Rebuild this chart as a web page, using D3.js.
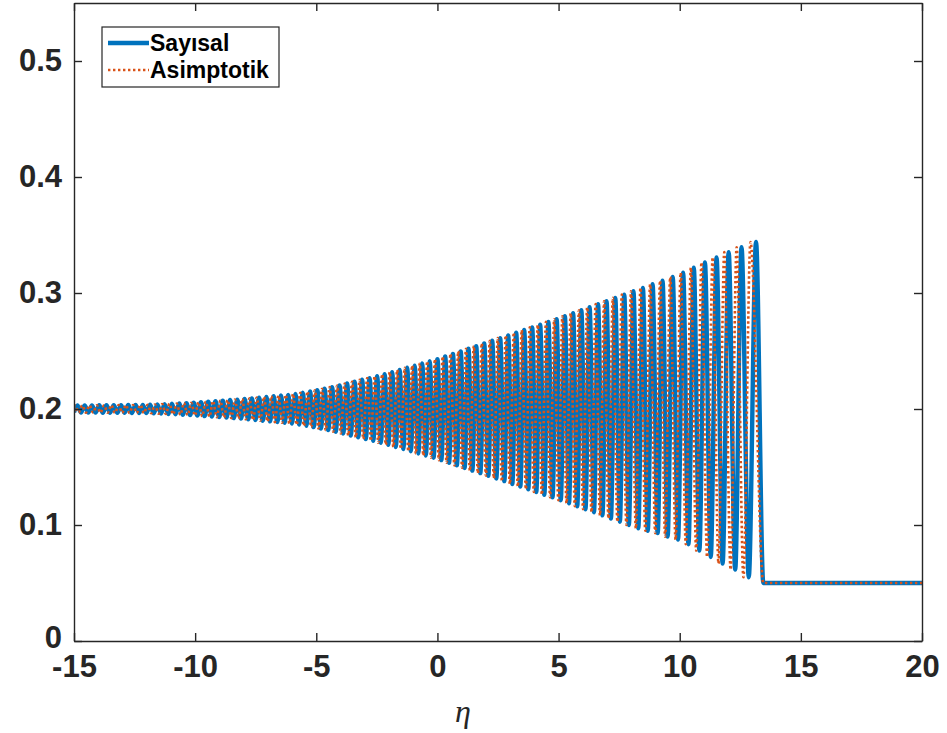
<!DOCTYPE html>
<html>
<head>
<meta charset="utf-8">
<script src="https://cdn.jsdelivr.net/npm/d3@7"></script>
<style>
  html, body { margin: 0; padding: 0; background: #fff; }
  svg { display: block; }
</style>
</head>
<body>
<svg id="chart" width="947" height="733"></svg>
<script>
// Axis ticks
const etaTicks = [-15, -10, -5, 0, 5, 10, 15, 20];
const valueTicks = [0, 0.1, 0.2, 0.3, 0.4, 0.5];

// Series names
const seriesNames = ["Sayısal", "Asimptotik"];

// Numerical solution: start point, alternating maxima/minima, then the flat tail
const sayisalEta = [-15,
  -14.86, -14.71, -14.56, -14.41, -14.26, -14.11, -13.96, -13.81, -13.66, -13.51,
  -13.36, -13.21, -13.06, -12.91, -12.76, -12.61, -12.46, -12.31, -12.16, -12.01,
  -11.86, -11.71, -11.56, -11.41, -11.26, -11.11, -10.96, -10.81, -10.66, -10.51,
  -10.36, -10.21, -10.06, -9.91, -9.76, -9.61, -9.46, -9.31, -9.16, -9.01,
  -8.86, -8.71, -8.56, -8.41, -8.26, -8.11, -7.96, -7.81, -7.66, -7.51,
  -7.36, -7.21, -7.06, -6.91, -6.76, -6.61, -6.46, -6.31, -6.16, -6.01,
  -5.86, -5.71, -5.56, -5.41, -5.26, -5.11, -4.96, -4.81, -4.66, -4.51,
  -4.35, -4.20, -4.04, -3.89, -3.73, -3.58, -3.42, -3.27, -3.11, -2.96,
  -2.80, -2.65, -2.49, -2.34, -2.18, -2.03, -1.87, -1.72, -1.56, -1.41,
  -1.25, -1.10, -0.94, -0.79, -0.63, -0.48, -0.32, -0.16, 0.00, 0.16,
  0.32, 0.48, 0.64, 0.80, 0.96, 1.12, 1.28, 1.44, 1.60, 1.77,
  1.93, 2.10, 2.26, 2.43, 2.59, 2.76, 2.92, 3.09, 3.25, 3.42,
  3.58, 3.75, 3.91, 4.08, 4.24, 4.41, 4.58, 4.75, 4.92, 5.09,
  5.26, 5.43, 5.60, 5.77, 5.94, 6.11, 6.28, 6.46, 6.63, 6.81,
  6.98, 7.16, 7.34, 7.53, 7.71, 7.90, 8.09, 8.29, 8.48, 8.68,
  8.88, 9.09, 9.29, 9.50, 9.71, 9.93, 10.14, 10.36, 10.58, 10.81,
  11.04, 11.28, 11.52, 11.77, 12.02, 12.29, 12.55, 12.85, 13.15,
  13.45, 20];

// Asymptotic solution: same sequence of extrema, slightly ahead in phase
const asimptotikEta = [-15,
  -14.96, -14.81, -14.66, -14.51, -14.36, -14.21, -14.06, -13.91, -13.76, -13.61,
  -13.46, -13.31, -13.16, -13.01, -12.86, -12.71, -12.56, -12.41, -12.26, -12.11,
  -11.96, -11.81, -11.66, -11.51, -11.36, -11.21, -11.06, -10.91, -10.76, -10.61,
  -10.46, -10.31, -10.16, -10.01, -9.86, -9.71, -9.56, -9.41, -9.26, -9.11,
  -8.96, -8.81, -8.66, -8.51, -8.36, -8.21, -8.06, -7.91, -7.76, -7.61,
  -7.46, -7.31, -7.16, -7.01, -6.86, -6.71, -6.56, -6.41, -6.26, -6.11,
  -5.96, -5.81, -5.66, -5.51, -5.36, -5.21, -5.06, -4.91, -4.76, -4.61,
  -4.45, -4.30, -4.14, -3.99, -3.83, -3.68, -3.52, -3.37, -3.21, -3.06,
  -2.90, -2.75, -2.59, -2.44, -2.28, -2.13, -1.97, -1.82, -1.66, -1.51,
  -1.35, -1.20, -1.04, -0.89, -0.73, -0.58, -0.42, -0.26, -0.10, 0.06,
  0.22, 0.38, 0.54, 0.70, 0.86, 1.02, 1.18, 1.34, 1.50, 1.67,
  1.83, 2.00, 2.16, 2.33, 2.49, 2.66, 2.82, 2.99, 3.15, 3.32,
  3.48, 3.65, 3.81, 3.98, 4.14, 4.31, 4.48, 4.65, 4.82, 4.99,
  5.16, 5.33, 5.50, 5.67, 5.84, 6.01, 6.18, 6.36, 6.53, 6.71,
  6.88, 7.06, 7.24, 7.43, 7.61, 7.80, 7.99, 8.19, 8.38, 8.58,
  8.78, 8.99, 9.19, 9.40, 9.61, 9.83, 10.04, 10.25, 10.46, 10.68,
  10.90, 11.13, 11.36, 11.60, 11.84, 12.10, 12.35, 12.63, 12.92,
  13.45, 20];

// Values at those points (shared by both solutions: maximum, minimum, maximum, ...)
const waveValue = [0.1972,
  0.2030, 0.1970, 0.2031, 0.1969, 0.2031, 0.1969, 0.2032, 0.1968, 0.2032, 0.1968,
  0.2033, 0.1967, 0.2033, 0.1967, 0.2034, 0.1966, 0.2034, 0.1966, 0.2035, 0.1965,
  0.2036, 0.1963, 0.2039, 0.1960, 0.2042, 0.1957, 0.2045, 0.1954, 0.2048, 0.1951,
  0.2051, 0.1948, 0.2054, 0.1944, 0.2059, 0.1939, 0.2063, 0.1935, 0.2068, 0.1930,
  0.2072, 0.1926, 0.2077, 0.1921, 0.2081, 0.1917, 0.2086, 0.1911, 0.2092, 0.1905,
  0.2098, 0.1899, 0.2104, 0.1893, 0.2110, 0.1887, 0.2116, 0.1881, 0.2122, 0.1874,
  0.2130, 0.1865, 0.2140, 0.1855, 0.2151, 0.1844, 0.2162, 0.1832, 0.2175, 0.1818,
  0.2189, 0.1804, 0.2203, 0.1789, 0.2220, 0.1772, 0.2236, 0.1756, 0.2252, 0.1741,
  0.2266, 0.1726, 0.2283, 0.1709, 0.2300, 0.1691, 0.2318, 0.1673, 0.2336, 0.1655,
  0.2355, 0.1636, 0.2374, 0.1617, 0.2392, 0.1599, 0.2411, 0.1580, 0.2430, 0.1559,
  0.2452, 0.1537, 0.2475, 0.1514, 0.2497, 0.1492, 0.2520, 0.1469, 0.2542, 0.1447,
  0.2565, 0.1424, 0.2588, 0.1401, 0.2611, 0.1378, 0.2634, 0.1354, 0.2658, 0.1331,
  0.2681, 0.1308, 0.2704, 0.1285, 0.2727, 0.1261, 0.2751, 0.1238, 0.2774, 0.1213,
  0.2800, 0.1187, 0.2826, 0.1162, 0.2851, 0.1136, 0.2877, 0.1110, 0.2904, 0.1083,
  0.2930, 0.1056, 0.2958, 0.1028, 0.2986, 0.1000, 0.3015, 0.0971, 0.3044, 0.0950,
  0.3075, 0.0930, 0.3106, 0.0900, 0.3138, 0.0874, 0.3174, 0.0834, 0.3218, 0.0779,
  0.3264, 0.0724, 0.3307, 0.0668, 0.3352, 0.0615, 0.3395, 0.0550, 0.3440,
  0.05, 0.05];

const colors = { sayisal: "#0072BD", asimptotik: "#D95319" };
const axisColor = "#262626";
const fontFamily = "'Liberation Sans', Arial, Helvetica, sans-serif";

const svg = d3.select("#chart");
const margin = { left: 74, right: 25, top: 3, bottom: 92 };
const W = 947, H = 733;
const innerW = W - margin.left - margin.right;
const innerH = H - margin.top - margin.bottom;

const x = d3.scaleLinear().domain([-15, 20]).range([0, innerW]);
const y = d3.scaleLinear().domain([0, 0.55]).range([innerH, 0]);

const g = svg.append("g").attr("transform", `translate(${margin.left},${margin.top})`);

svg.append("defs").append("clipPath").attr("id", "plotClip")
  .append("rect").attr("width", innerW).attr("height", innerH);

const line = d3.line()
  .x(d => x(d[0]))
  .y(d => y(d[1]))
  .curve(d3.curveMonotoneX);

const sayisalData = sayisalEta.map((e, i) => [e, waveValue[i]]);
const asimptotikData = asimptotikEta.map((e, i) => [e, waveValue[i]]);

const blueWidth = 4.4, orangeWidth = 2.6, orangeDash = "2.4 2.6";

const plot = g.append("g").attr("clip-path", "url(#plotClip)");
plot.append("path")
  .datum(sayisalData)
  .attr("fill", "none")
  .attr("stroke", colors.sayisal)
  .attr("stroke-width", blueWidth)
  .attr("stroke-linejoin", "round")
  .attr("d", line);
plot.append("path")
  .datum(asimptotikData)
  .attr("fill", "none")
  .attr("stroke", colors.asimptotik)
  .attr("stroke-width", orangeWidth)
  .attr("stroke-dasharray", orangeDash)
  .attr("d", line);

// Axes: ticks point inward on all four sides (box style)
const tickLen = 8;
const fmtY = d => d === 0 ? "0" : d3.format(".1f")(d);
const fmtX = d => String(d); // plain hyphen-minus

const xBottom = g.append("g").attr("transform", `translate(0,${innerH})`)
  .call(d3.axisBottom(x).tickValues(etaTicks).tickSizeInner(-tickLen).tickSizeOuter(0).tickPadding(14).tickFormat(fmtX));
const xTop = g.append("g")
  .call(d3.axisTop(x).tickValues(etaTicks).tickSizeInner(-tickLen).tickSizeOuter(0).tickFormat(""));
const yLeft = g.append("g")
  .call(d3.axisLeft(y).tickValues(valueTicks).tickSizeInner(-tickLen).tickSizeOuter(0).tickPadding(12).tickFormat(fmtY));
const yRight = g.append("g").attr("transform", `translate(${innerW},0)`)
  .call(d3.axisRight(y).tickValues(valueTicks).tickSizeInner(-tickLen).tickSizeOuter(0).tickFormat(""));

[xBottom, xTop, yLeft, yRight].forEach(a => {
  a.select(".domain").attr("stroke", axisColor).attr("stroke-width", 1.4);
  a.selectAll(".tick line").attr("stroke", axisColor).attr("stroke-width", 1.4);
  a.selectAll(".tick text")
    .attr("fill", axisColor)
    .style("font-family", fontFamily)
    .style("font-weight", "bold")
    .style("font-size", "31px");
});

// The lowest value label sits a little higher so it clears the eta labels
yLeft.selectAll(".tick").filter(d => d === 0).select("text").attr("dy", "0.2em");

// Axis label
g.append("text")
  .attr("x", x(1.05))
  .attr("y", innerH + 81)
  .attr("text-anchor", "middle")
  .style("font-family", "'Liberation Serif', 'Times New Roman', serif")
  .style("font-style", "italic")
  .style("font-size", "32px")
  .attr("fill", axisColor)
  .text("η");

// Legend
const legend = svg.append("g").attr("transform", "translate(102,27)");
const legW = 177, legH = 60;
legend.append("rect")
  .attr("width", legW).attr("height", legH)
  .attr("fill", "#fff").attr("stroke", axisColor).attr("stroke-width", 1.2);
const legRows = [
  { name: seriesNames[0], color: colors.sayisal, width: blueWidth, dash: null },
  { name: seriesNames[1], color: colors.asimptotik, width: orangeWidth, dash: orangeDash }
];
legRows.forEach((r, i) => {
  const cy = 16 + i * 27;
  legend.append("line")
    .attr("x1", 6).attr("x2", 47).attr("y1", cy).attr("y2", cy)
    .attr("stroke", r.color).attr("stroke-width", r.width)
    .attr("stroke-dasharray", r.dash);
  legend.append("text")
    .attr("x", 48).attr("y", cy)
    .attr("dy", "0.35em")
    .style("font-family", fontFamily)
    .style("font-weight", "bold")
    .style("font-size", "23px")
    .attr("fill", "#000")
    .text(r.name);
});
</script>
</body>
</html>
